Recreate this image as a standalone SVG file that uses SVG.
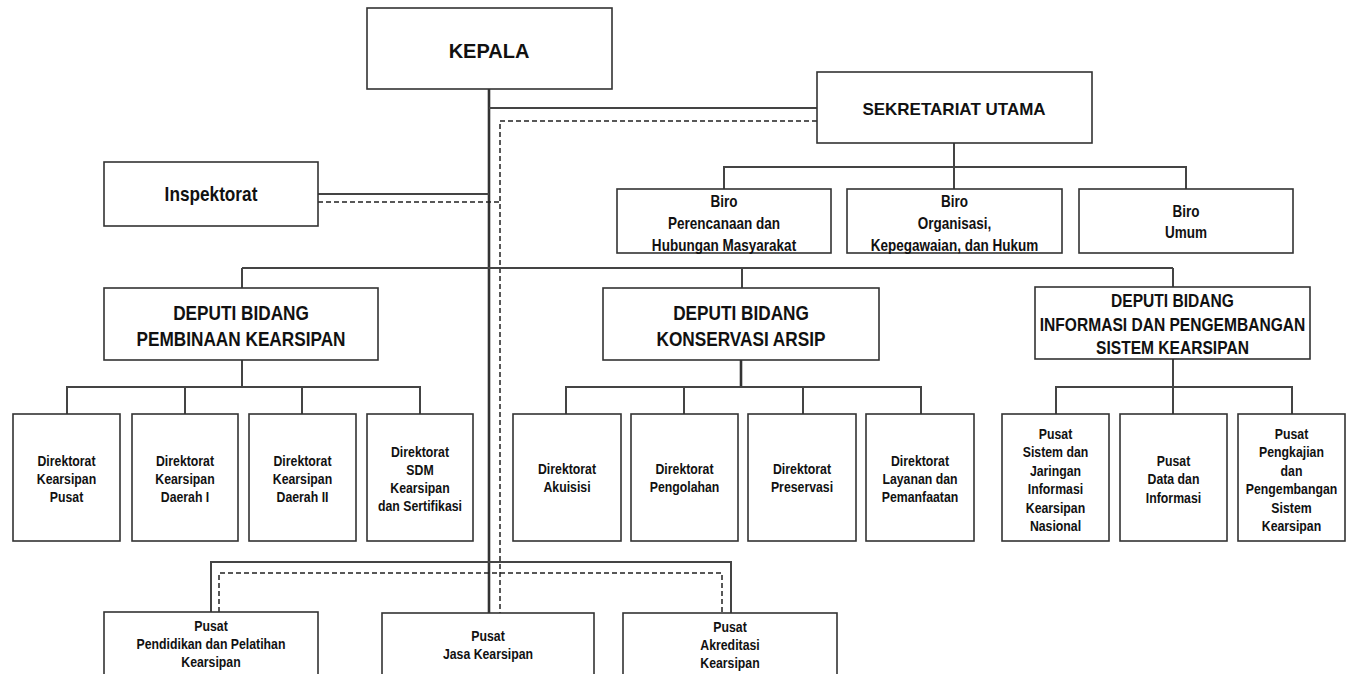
<svg xmlns="http://www.w3.org/2000/svg" width="1346" height="674" viewBox="0 0 1346 674">
  <style>
    .box { fill: #ffffff; stroke: #333333; stroke-width: 1.6; }
    .ln { fill: none; stroke: #444444; stroke-width: 2; }
    .main { fill: none; stroke: #333333; stroke-width: 2.6; }
    .dash { fill: none; stroke: #222222; stroke-width: 1.5; stroke-dasharray: 5 3; }
    text { font-family: 'Liberation Sans', Arial, sans-serif; font-weight: bold; fill: #111111; text-anchor: middle; }
    .s15 text { font-size: 15px; }
    .s16 text { font-size: 16.5px; }
    .s19 text { font-size: 19px; }
    .s21 text { font-size: 21px; }
  </style>
  <rect width="1346" height="674" fill="#ffffff"/>

  <!-- connectors -->
  <g id="connectors">
    <!-- command lines -->
    <line class="main" x1="489" y1="89" x2="489" y2="613"/>
    <line class="ln" x1="489" y1="108" x2="817" y2="108"/>
    <line class="ln" x1="318" y1="194" x2="489" y2="194"/>
    <!-- coordination lines -->
    <polyline class="dash" points="817,121 500,121 500,613"/>
    <line class="dash" x1="318" y1="202" x2="500" y2="202"/>
    <!-- sekretariat to biro -->
    <line class="ln" x1="954" y1="143" x2="954" y2="189"/>
    <polyline class="ln" points="724,189 724,167 1186,167 1186,189"/>
    <!-- deputi row -->
    <line class="ln" x1="242" y1="268" x2="1173" y2="268"/>
    <line class="ln" x1="242" y1="268" x2="242" y2="288"/>
    <line class="ln" x1="742" y1="268" x2="742" y2="288"/>
    <line class="ln" x1="1173" y1="268" x2="1173" y2="287"/>
    <!-- deputi pembinaan -->
    <line class="ln" x1="242" y1="360" x2="242" y2="387"/>
    <polyline class="ln" points="67,414 67,387 420,387 420,414"/>
    <line class="ln" x1="185" y1="387" x2="185" y2="414"/>
    <line class="ln" x1="302" y1="387" x2="302" y2="414"/>
    <!-- deputi konservasi -->
    <line class="main" x1="741" y1="360" x2="741" y2="387"/>
    <polyline class="ln" points="566,414 566,387 921,387 921,414"/>
    <line class="ln" x1="684" y1="387" x2="684" y2="414"/>
    <line class="ln" x1="803" y1="387" x2="803" y2="414"/>
    <!-- deputi informasi -->
    <line class="ln" x1="1173" y1="359" x2="1173" y2="414"/>
    <polyline class="ln" points="1056,414 1056,387 1292,387 1292,414"/>
    <!-- pusat row -->
    <polyline class="ln" points="211,612 211,562 731,562 731,613"/>
    <polyline class="dash" points="219,612 219,573 722,573 722,613"/>
  </g>

  <g id="kepala">
    <rect class="box" x="367" y="8" width="245" height="81"/>
    <text x="489" y="58" font-size="20">KEPALA</text>
  </g>

  <g id="sekretariat-utama">
    <rect class="box" x="817" y="72" width="275" height="71"/>
    <text x="954" y="115" font-size="17">SEKRETARIAT UTAMA</text>
  </g>

  <!-- condensed labels: each text block is squeezed horizontally about its centre -->
  <g id="inspektorat">
    <rect class="box" x="104" y="162" width="214" height="64"/>
    <g class="s21" transform="translate(211 0) scale(0.82 1)">
      <text y="201">Inspektorat</text>
    </g>
  </g>

  <g id="biro-perencanaan">
    <rect class="box" x="617" y="189" width="214" height="64"/>
    <g class="s16" transform="translate(724 0) scale(0.82 1)">
      <text y="207">Biro</text>
      <text y="229">Perencanaan dan</text>
      <text y="251">Hubungan Masyarakat</text>
    </g>
  </g>

  <g id="biro-organisasi">
    <rect class="box" x="847" y="189" width="215" height="64"/>
    <g class="s16" transform="translate(954.5 0) scale(0.82 1)">
      <text y="207">Biro</text>
      <text y="229">Organisasi,</text>
      <text y="251">Kepegawaian, dan Hukum</text>
    </g>
  </g>

  <g id="biro-umum">
    <rect class="box" x="1079" y="189" width="214" height="64"/>
    <g class="s16" transform="translate(1186 0) scale(0.82 1)">
      <text y="217">Biro</text>
      <text y="238">Umum</text>
    </g>
  </g>

  <g id="deputi-pembinaan">
    <rect class="box" x="104" y="288" width="274" height="72"/>
    <g class="s21" transform="translate(241 0) scale(0.82 1)">
      <text y="320">DEPUTI BIDANG</text>
      <text y="346">PEMBINAAN KEARSIPAN</text>
    </g>
  </g>

  <g id="deputi-konservasi">
    <rect class="box" x="603" y="288" width="276" height="72"/>
    <g class="s21" transform="translate(741 0) scale(0.82 1)">
      <text y="320">DEPUTI BIDANG</text>
      <text y="346">KONSERVASI ARSIP</text>
    </g>
  </g>

  <g id="deputi-informasi">
    <rect class="box" x="1035" y="287" width="275" height="72"/>
    <g class="s19" transform="translate(1172.5 0) scale(0.82 1)">
      <text y="307">DEPUTI BIDANG</text>
      <text y="331">INFORMASI DAN PENGEMBANGAN</text>
      <text y="354">SISTEM KEARSIPAN</text>
    </g>
  </g>

  <!-- direktorat under deputi pembinaan -->
  <g id="dit-kearsipan-pusat">
    <rect class="box" x="13" y="414" width="107" height="127"/>
    <g class="s15" transform="translate(66.5 0) scale(0.82 1)">
      <text y="466">Direktorat</text>
      <text y="484">Kearsipan</text>
      <text y="502">Pusat</text>
    </g>
  </g>
  <g id="dit-kearsipan-daerah-1">
    <rect class="box" x="132" y="414" width="106" height="127"/>
    <g class="s15" transform="translate(185 0) scale(0.82 1)">
      <text y="466">Direktorat</text>
      <text y="484">Kearsipan</text>
      <text y="502">Daerah I</text>
    </g>
  </g>
  <g id="dit-kearsipan-daerah-2">
    <rect class="box" x="249" y="414" width="107" height="127"/>
    <g class="s15" transform="translate(302.5 0) scale(0.82 1)">
      <text y="466">Direktorat</text>
      <text y="484">Kearsipan</text>
      <text y="502">Daerah II</text>
    </g>
  </g>
  <g id="dit-sdm">
    <rect class="box" x="367" y="414" width="106" height="127"/>
    <g class="s15" transform="translate(420 0) scale(0.82 1)">
      <text y="457">Direktorat</text>
      <text y="475">SDM</text>
      <text y="493">Kearsipan</text>
      <text y="511">dan Sertifikasi</text>
    </g>
  </g>

  <!-- direktorat under deputi konservasi -->
  <g id="dit-akuisisi">
    <rect class="box" x="513" y="414" width="108" height="127"/>
    <g class="s15" transform="translate(567 0) scale(0.82 1)">
      <text y="474">Direktorat</text>
      <text y="492">Akuisisi</text>
    </g>
  </g>
  <g id="dit-pengolahan">
    <rect class="box" x="631" y="414" width="107" height="127"/>
    <g class="s15" transform="translate(684.5 0) scale(0.82 1)">
      <text y="474">Direktorat</text>
      <text y="492">Pengolahan</text>
    </g>
  </g>
  <g id="dit-preservasi">
    <rect class="box" x="748" y="414" width="108" height="127"/>
    <g class="s15" transform="translate(802 0) scale(0.82 1)">
      <text y="474">Direktorat</text>
      <text y="492">Preservasi</text>
    </g>
  </g>
  <g id="dit-layanan">
    <rect class="box" x="866" y="414" width="108" height="127"/>
    <g class="s15" transform="translate(920 0) scale(0.82 1)">
      <text y="466">Direktorat</text>
      <text y="484">Layanan dan</text>
      <text y="502">Pemanfaatan</text>
    </g>
  </g>

  <!-- pusat under deputi informasi -->
  <g id="pusat-sistem-jaringan">
    <rect class="box" x="1002" y="414" width="107" height="127"/>
    <g class="s15" transform="translate(1055.5 0) scale(0.82 1)">
      <text y="439">Pusat</text>
      <text y="457.4">Sistem dan</text>
      <text y="475.8">Jaringan</text>
      <text y="494.2">Informasi</text>
      <text y="512.6">Kearsipan</text>
      <text y="531">Nasional</text>
    </g>
  </g>
  <g id="pusat-data">
    <rect class="box" x="1120" y="414" width="107" height="127"/>
    <g class="s15" transform="translate(1173.5 0) scale(0.82 1)">
      <text y="466">Pusat</text>
      <text y="484.5">Data dan</text>
      <text y="503">Informasi</text>
    </g>
  </g>
  <g id="pusat-pengkajian">
    <rect class="box" x="1238" y="414" width="107" height="127"/>
    <g class="s15" transform="translate(1291.5 0) scale(0.82 1)">
      <text y="439">Pusat</text>
      <text y="457.4">Pengkajian</text>
      <text y="475.8">dan</text>
      <text y="494.2">Pengembangan</text>
      <text y="512.6">Sistem</text>
      <text y="531">Kearsipan</text>
    </g>
  </g>

  <!-- pusat directly under kepala -->
  <g id="pusat-diklat">
    <rect class="box" x="104" y="612" width="214" height="80"/>
    <g class="s15" transform="translate(211 0) scale(0.82 1)">
      <text y="631">Pusat</text>
      <text y="649">Pendidikan dan Pelatihan</text>
      <text y="667">Kearsipan</text>
    </g>
  </g>
  <g id="pusat-jasa">
    <rect class="box" x="382" y="613" width="212" height="80"/>
    <g class="s15" transform="translate(488 0) scale(0.82 1)">
      <text y="641">Pusat</text>
      <text y="659">Jasa Kearsipan</text>
    </g>
  </g>
  <g id="pusat-akreditasi">
    <rect class="box" x="623" y="613" width="214" height="80"/>
    <g class="s15" transform="translate(730 0) scale(0.82 1)">
      <text y="632">Pusat</text>
      <text y="650">Akreditasi</text>
      <text y="668">Kearsipan</text>
    </g>
  </g>
</svg>
